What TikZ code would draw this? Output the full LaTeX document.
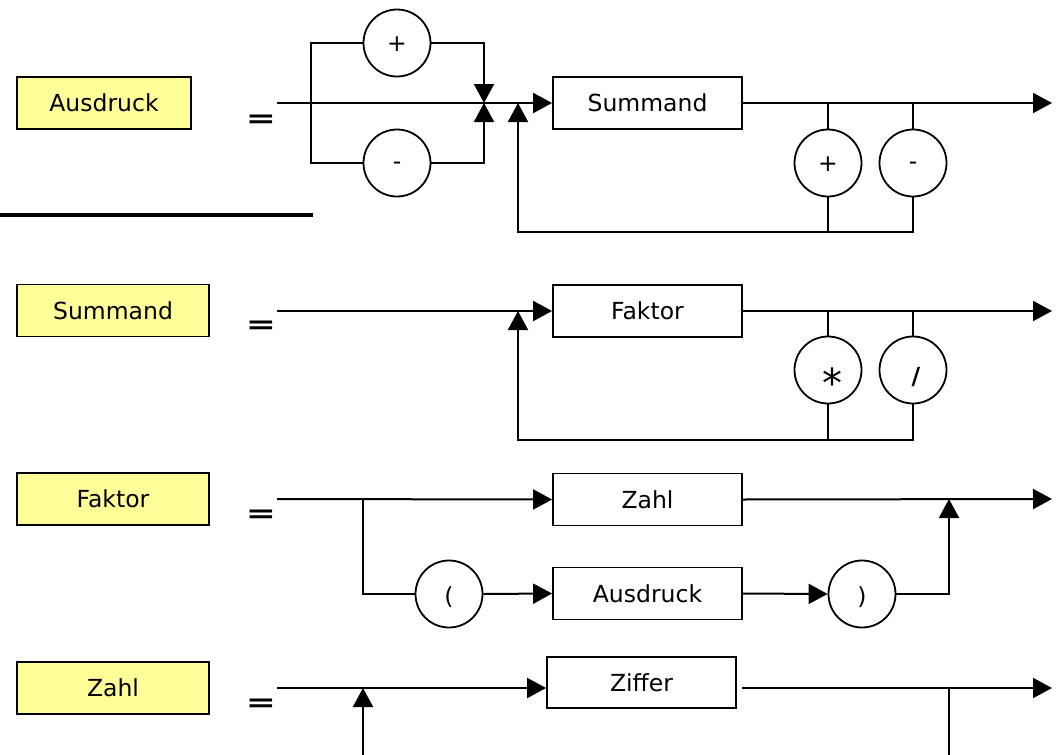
\documentclass[tikz,border=0pt]{standalone}
\usepackage{fontspec}
\setmainfont{DejaVu Sans}
\usetikzlibrary{arrows.meta}
\definecolor{labelyellow}{RGB}{255,255,153}

% operator symbol, lowered by #1 below the circle centre, shifted right by #2
\newcommand{\opsym}[3]{\hspace*{#2}\raisebox{-#1}{#3}}
% squat definition sign
\newcommand{\defeq}{\scalebox{1}[0.72]{\bfseries =}}

\begin{document}
\begin{tikzpicture}[x=1pt,y=-1pt,
  line width=2pt,
  every node/.style={font=\fontsize{23.5}{28}\selectfont},
  rulebox/.style={draw, fill=labelyellow, line width=1.8pt, minimum width=192pt, minimum height=52pt, inner sep=0},
  termbox/.style={draw, line width=1.8pt, minimum width=189pt, minimum height=52pt, inner sep=0},
  opcirc/.style={draw, circle, line width=1.8pt, minimum size=67pt, inner sep=0, text height=0pt, text depth=0pt},
  defsign/.style={font=\fontsize{36}{36}\selectfont, inner sep=0},
  flow/.style={-{Triangle[length=19pt,width=20pt]}},
]
\useasboundingbox (0,0) rectangle (1061,755);

% ---------- Ausdruck ----------
\node[rulebox, minimum width=174pt] (lAus) at (104,103) {Ausdruck};
\node[defsign] (eq1) at (261,121) {\defeq};
\coordinate (s1) at (277,103);
\coordinate (b1) at (311,103);
\coordinate (j1) at (484,103);
\coordinate (fb1) at (518,103);
\coordinate (fbB1) at (518,232);
\coordinate (e1) at (1052,103);
\node[opcirc] (plus1) at (397,43) {\opsym{8pt}{0pt}{+}};
\node[opcirc] (minus1) at (397,163) {\opsym{6.5pt}{0pt}{-}};
\node[termbox] (summ1) at (647.5,103) {Summand};
\node[opcirc] (plus2) at (828,163) {\opsym{8pt}{0pt}{+}};
\node[opcirc] (minus2) at (913,163) {\opsym{6.5pt}{0pt}{-}};

\draw[flow] (s1) -- (summ1.west);
\draw (plus1.west) -- (plus1.west -| b1) -- (minus1.west -| b1) -- (minus1.west);
\draw[flow] (plus1.east) -| (j1);
\draw[flow] (minus1.east) -| (j1);
\draw[flow] (summ1.east) -- (e1);
\draw (plus2.north) -- (plus2.north |- summ1.east);
\draw (minus2.north) -- (minus2.north |- summ1.east);
\draw (plus2.south) -- (plus2.south |- fbB1);
\draw[flow] (minus2.south) |- (fbB1) -- (fb1);

% separating rule
\coordinate (ruleA) at (0,215);
\coordinate (ruleB) at (313,215);
\draw[line width=4pt] (ruleA) -- (ruleB);

% ---------- Summand ----------
\node[rulebox] (lSum) at (113,310.5) {Summand};
\node[defsign] (eq2) at (261,327) {\defeq};
\coordinate (s2) at (277,311);
\coordinate (fb2) at (518,311);
\coordinate (fbB2) at (518,440);
\coordinate (e2) at (1052,311);
\node[termbox] (fakt2) at (647.5,311) {Faktor};
\node[opcirc] (mul2) at (828,370) {\opsym{27pt}{8pt}{\fontsize{40}{40}\selectfont *}};
\node[opcirc] (div2) at (913,370) {\opsym{14pt}{6pt}{\bfseries /}};

\draw[flow] (s2) -- (fakt2.west);
\draw[flow] (fakt2.east) -- (e2);
\draw (mul2.north) -- (mul2.north |- fakt2.east);
\draw (div2.north) -- (div2.north |- fakt2.east);
\draw (mul2.south) -- (mul2.south |- fbB2);
\draw[flow] (div2.south) |- (fbB2) -- (fb2);

% ---------- Faktor ----------
\node[rulebox] (lFak) at (113,499) {Faktor};
\node[defsign] (eq3) at (261,516) {\defeq};
\coordinate (s3) at (277,499);
\coordinate (br3) at (363,499);
\coordinate (j3) at (949,499);
\coordinate (e3) at (1052,499);
\node[termbox] (zahl3) at (647.5,499.5) {Zahl};
\node[opcirc] (lpar) at (449,594) {\opsym{10pt}{0pt}{(}};
\node[termbox] (aus3) at (647.5,593.5) {Ausdruck};
\node[opcirc] (rpar) at (862,594) {\opsym{10pt}{0pt}{)}};

\draw[flow] (s3) -- (zahl3.west);
\draw (br3) |- (lpar.west);
\draw[flow] (lpar.east) -- (aus3.west);
\draw[flow] (aus3.east) -- (rpar.west);
\draw[flow] (rpar.east) -| (j3);
\draw[flow] (zahl3.east) -- (e3);

% ---------- Zahl ----------
\node[rulebox] (lZahl) at (113,688) {Zahl};
\node[defsign] (eq4) at (261,705) {\defeq};
\coordinate (s4) at (277,688);
\coordinate (j4) at (363,688);
\coordinate (j4b) at (363,755);
\coordinate (o4) at (742,688);
\coordinate (k4) at (949,688);
\coordinate (k4b) at (949,755);
\coordinate (e4) at (1052,688);
\node[termbox, minimum height=51pt] (ziff) at (641.5,682.5) {Ziffer};

\draw[flow] (s4) -- (ziff.west |- s4);
\draw[flow] (j4b) -- (j4);
\draw[flow] (o4) -- (e4);
\draw (k4) -- (k4b);
\end{tikzpicture}
\end{document}
